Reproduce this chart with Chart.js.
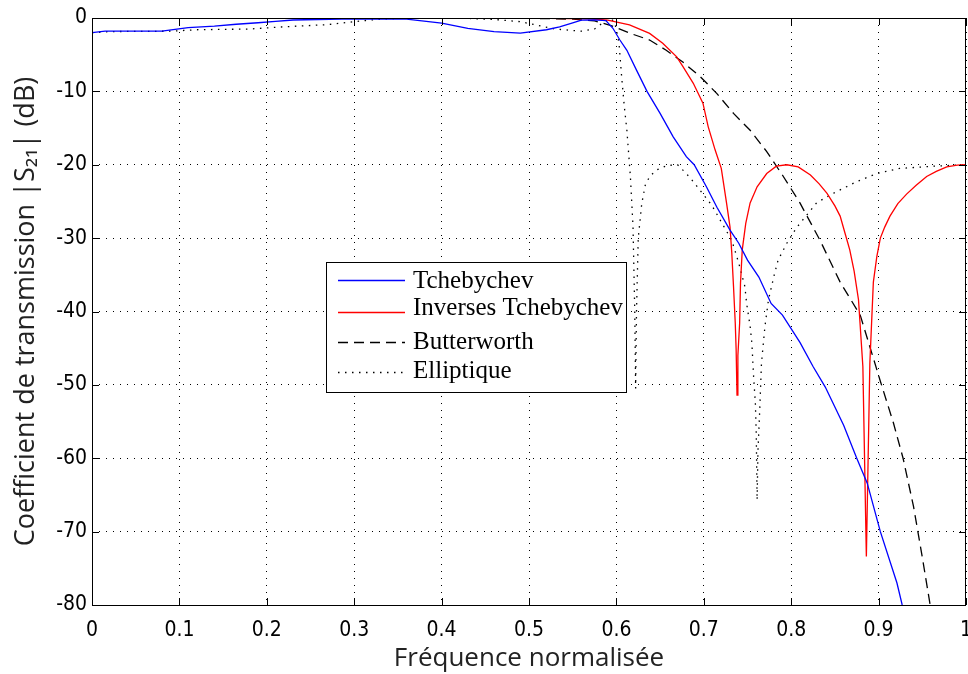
<!DOCTYPE html>
<html>
<head>
<meta charset="utf-8">
<script src="https://cdn.jsdelivr.net/npm/chart.js@4.4.1/dist/chart.umd.min.js"></script>
<style>
  html, body { margin: 0; padding: 0; background: #fff; }
  #wrap { width: 968px; height: 674px; }
</style>
</head>
<body>
<div id="wrap"><canvas id="filtres" width="968" height="674"></canvas></div>
<script>
// ticks
const xTicks = [0, 0.1, 0.2, 0.3, 0.4, 0.5, 0.6, 0.7, 0.8, 0.9, 1];
const yTicks = [-80, -70, -60, -50, -40, -30, -20, -10, 0];

// Tchebychev
const tchebX = [0, 0.015, 0.08, 0.11, 0.14, 0.165, 0.19, 0.21, 0.23, 0.3, 0.36, 0.4, 0.43, 0.46, 0.49, 0.52, 0.535, 0.55, 0.56, 0.575, 0.588, 0.596, 0.604, 0.612, 0.623, 0.635, 0.65, 0.665, 0.68, 0.689, 0.703, 0.715, 0.73, 0.74, 0.75, 0.763, 0.777, 0.79, 0.81, 0.825, 0.839, 0.86, 0.875, 0.887, 0.902, 0.921, 0.927, 0.935];
const tchebY = [-2.0, -1.8, -1.8, -1.3, -1.1, -0.85, -0.65, -0.45, -0.27, -0.1, -0.15, -0.7, -1.4, -1.85, -2.05, -1.6, -1.2, -0.65, -0.3, -0.25, -0.35, -1.4, -3.0, -4.4, -7.1, -10, -13, -16.2, -18.9, -20, -23, -25.8, -28.9, -30.7, -33, -35.3, -38.9, -40.5, -44.2, -47.5, -50.3, -55.5, -60, -63.4, -70, -77, -80, -82];

// Inverses Tchebychev
const invX = [0, 0.5, 0.57, 0.59, 0.615, 0.638, 0.653, 0.669, 0.676, 0.688, 0.699, 0.705, 0.713, 0.72, 0.726, 0.73, 0.732, 0.734, 0.736, 0.737, 0.738, 0.739, 0.741, 0.742, 0.744, 0.748, 0.753, 0.761, 0.772, 0.783, 0.795, 0.808, 0.822, 0.832, 0.841, 0.85, 0.856, 0.862, 0.867, 0.872, 0.877, 0.882, 0.886, 0.89, 0.894, 0.898, 0.902, 0.907, 0.913, 0.922, 0.932, 0.943, 0.955, 0.966, 0.978, 0.99, 1.0];
const invY = [0, 0, -0.1, -0.3, -0.95, -2.1, -3.45, -5.3, -6.6, -8.9, -11.6, -14.8, -18, -20.5, -25.2, -28.5, -32, -36.6, -41.6, -45.2, -51.4, -46, -41.6, -36.1, -31.6, -28, -25.2, -23, -21.2, -20.2, -20, -20.3, -21.4, -22.6, -23.9, -25.6, -27, -29.5, -31.6, -34.5, -38.4, -47.5, -73.4, -47, -36, -32.5, -30, -28.5, -27, -25.3, -24, -22.8, -21.6, -20.9, -20.3, -20.05, -20];

// Butterworth
const buttX = [0, 0.5, 0.55, 0.575, 0.593, 0.616, 0.638, 0.657, 0.676, 0.696, 0.715, 0.734, 0.753, 0.772, 0.791, 0.81, 0.833, 0.856, 0.879, 0.902, 0.917, 0.928, 0.94, 0.95, 0.959, 0.965];
const buttY = [0, -0.05, -0.15, -0.4, -1, -2.1, -3, -4.4, -6, -8, -10.3, -13, -15.3, -18.2, -21.6, -25.2, -30.3, -36, -40.5, -49.5, -55.2, -60, -66.6, -73.5, -80, -85];

// Elliptique
const ellX = [0, 0.02, 0.09, 0.12, 0.18, 0.22, 0.27, 0.3, 0.33, 0.36, 0.42, 0.46, 0.49, 0.51, 0.53, 0.56, 0.575, 0.585, 0.592, 0.597, 0.6, 0.603, 0.606, 0.609, 0.612, 0.616, 0.619, 0.621, 0.622, 0.623, 0.625, 0.629, 0.633, 0.638, 0.646, 0.658, 0.67, 0.68, 0.688, 0.709, 0.732, 0.74, 0.747, 0.749, 0.753, 0.755, 0.757, 0.759, 0.76, 0.761, 0.762, 0.764, 0.766, 0.77, 0.774, 0.78, 0.785, 0.795, 0.806, 0.829, 0.848, 0.875, 0.898, 0.924, 0.963, 1.0];
const ellY = [-2.0, -1.85, -1.8, -1.6, -1.5, -1.2, -0.9, -0.5, -0.15, 0, 0, -0.2, -0.5, -1.0, -1.5, -1.8, -1.5, -0.6, -0.1, -0.4, -1.5, -3.5, -8, -12, -15.3, -21.6, -28.4, -40, -50.5, -40, -30, -25.3, -22.8, -21.6, -20.7, -20.1, -20, -21.2, -22.3, -25.5, -30.3, -33.4, -36.6, -38.9, -42, -44.3, -48.9, -52.5, -56.6, -65.7, -58.9, -53.4, -47, -42, -38.4, -35.3, -33, -30.7, -28.6, -25.2, -23.9, -22.3, -21.2, -20.5, -20.2, -20];

const toPoints = (xs, ys) => xs.map((x, i) => ({ x: x, y: ys[i] }));

// cadre + petits traits des graduations (style matlab)
const cadre = {
  id: 'cadre',
  afterDatasetsDraw(chart) {
    const { ctx, chartArea: a, scales } = chart;
    ctx.save();
    ctx.strokeStyle = '#000';
    ctx.lineWidth = 1;
    ctx.setLineDash([]);
    ctx.strokeRect(Math.round(a.left) + 0.5, Math.round(a.top) + 0.5, Math.round(a.right - a.left) - 1, Math.round(a.bottom - a.top));
    const len = 7;
    ctx.beginPath();
    xTicks.forEach(v => {
      const px = Math.round(scales.x.getPixelForValue(v)) + 0.5;
      ctx.moveTo(px, a.bottom); ctx.lineTo(px, a.bottom - len);
      ctx.moveTo(px, a.top); ctx.lineTo(px, a.top + len);
    });
    yTicks.forEach(v => {
      const py = Math.round(scales.y.getPixelForValue(v)) + 0.5;
      ctx.moveTo(a.left, py); ctx.lineTo(a.left + len, py);
      ctx.moveTo(a.right, py); ctx.lineTo(a.right - len, py);
    });
    ctx.stroke();
    ctx.restore();
  }
};

// legende dans la zone du graphe
const legende = {
  id: 'legende',
  afterDraw(chart) {
    const ctx = chart.ctx;
    const box = { x: 326.5, y: 262.5, w: 300, h: 130 };
    const lignes = [280, 312, 342, 372];
    const textes = [281, 308, 342, 371];
    ctx.save();
    ctx.fillStyle = '#fff';
    ctx.fillRect(box.x, box.y, box.w, box.h);
    ctx.strokeStyle = '#000';
    ctx.lineWidth = 1;
    ctx.strokeRect(box.x, box.y, box.w, box.h);
    chart.data.datasets.forEach((ds, i) => {
      ctx.strokeStyle = ds.borderColor;
      ctx.lineWidth = ds.borderWidth;
      ctx.setLineDash(ds.borderDash || []);
      ctx.beginPath();
      ctx.moveTo(338, lignes[i] + 0.5);
      ctx.lineTo(405, lignes[i] + 0.5);
      ctx.stroke();
      ctx.setLineDash([]);
      ctx.fillStyle = '#000';
      ctx.font = '25px "Liberation Serif", "Times New Roman", serif';
      ctx.textBaseline = 'middle';
      ctx.fillText(ds.label, 413, textes[i]);
    });
    ctx.restore();
  }
};

const tickFont = { family: '"Liberation Sans Narrow", "DejaVu Sans Condensed", Arial, sans-serif', size: 21 };
const titleFamily = '"Open Sans", "Noto Sans", sans-serif';
const gridStyle = { color: '#000', lineWidth: 1, drawTicks: false };

const ctx = document.getElementById('filtres').getContext('2d');
new Chart(ctx, {
  type: 'scatter',
  data: {
    datasets: [
      { label: 'Tchebychev', data: toPoints(tchebX, tchebY), borderColor: '#0000ff', borderWidth: 1.3 },
      { label: 'Inverses Tchebychev', data: toPoints(invX, invY), borderColor: '#ff0000', borderWidth: 1.3 },
      { label: 'Butterworth', data: toPoints(buttX, buttY), borderColor: '#000', borderWidth: 1.3, borderDash: [10, 6] },
      { label: 'Elliptique', data: toPoints(ellX, ellY), borderColor: '#000', borderWidth: 1.3, borderDash: [1.5, 5.5] }
    ].map(d => Object.assign(d, { showLine: true, pointRadius: 0, tension: 0, fill: false }))
  },
  options: {
    responsive: false,
    animation: false,
    layout: { padding: { top: 18, right: 2, left: 0, bottom: 0 } },
    plugins: { legend: { display: false }, tooltip: { enabled: false } },
    scales: {
      x: {
        type: 'linear', min: 0, max: 1,
        afterBuildTicks: s => { s.ticks = xTicks.map(v => ({ value: v })); },
        afterFit: s => { s.height = 69; s.paddingLeft = 0; s.paddingRight = 0; },
        ticks: { font: tickFont, color: '#000', padding: 13, maxRotation: 0, autoSkip: false,
                 callback: v => String(Math.round(v * 10) / 10) },
        grid: gridStyle,
        border: { display: false, dash: [1, 6] },
        title: { display: true, text: 'Fréquence normalisée', font: { family: titleFamily, size: 26 }, color: '#222', padding: { top: 0, bottom: 0 } }
      },
      y: {
        type: 'linear', min: -80, max: 0,
        afterBuildTicks: s => { s.ticks = yTicks.map(v => ({ value: v })); },
        afterFit: s => { s.width = 92; },
        ticks: { font: tickFont, color: '#000', padding: 5, autoSkip: false },
        grid: gridStyle,
        border: { display: false, dash: [1, 6] },
        title: { display: true, text: 'Coefficient de transmission |S₂₁| (dB)', font: { family: titleFamily, size: 27 }, color: '#222', padding: { top: 10, bottom: 0 } }
      }
    }
  },
  plugins: [cadre, legende]
});
</script>
</body>
</html>
